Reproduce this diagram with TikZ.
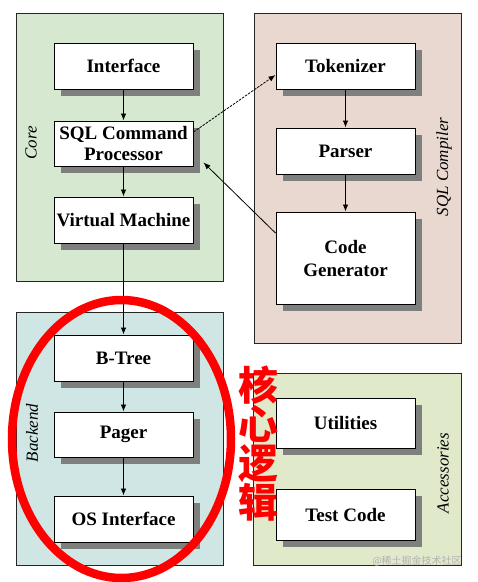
\documentclass[tikz,border=0pt]{standalone}
\usepackage{fontspec}
\setmainfont{Liberation Serif}
\newfontfamily\cjk{Noto Sans CJK SC}
\usetikzlibrary{shadows,arrows.meta}
\definecolor{coreg}{HTML}{D6E8D0}
\definecolor{sqlcg}{HTML}{E9D8CF}
\definecolor{backg}{HTML}{D0E6E4}
\definecolor{accg}{HTML}{E1E9CB}
\definecolor{shadowg}{HTML}{7E807E}
\begin{document}
\begin{tikzpicture}[x=1pt,y=-1pt,
  blk/.style={draw=black, line width=1pt, fill=white, inner sep=0pt, align=center,
    minimum width=139pt,
    font=\bfseries\fontsize{19}{20.5}\selectfont,
    drop shadow={shadow xshift=6.5pt, shadow yshift=-7pt, fill=shadowg, opacity=1}},
  panel/.style={draw=black!85, line width=1pt},
  lab/.style={font=\itshape\fontsize{17}{17}\selectfont, rotate=90, inner sep=0pt},
  arr/.style={-{Latex[length=7pt,width=5.5pt]}, line width=0.8pt}]
\useasboundingbox (0,0) rectangle (478,582);
% panels
\draw[panel, fill=coreg] (16,13) rectangle (223,281);
\draw[panel, fill=sqlcg] (254,13) rectangle (461,343);
\draw[panel, fill=backg] (16,312) rectangle (223,565);
\draw[panel, fill=accg] (253,373) rectangle (461,565);
% panel labels
\node[lab] (lcore) at (31,143) {Core};
\node[lab] (lsql) at (444,167) {SQL Compiler};
\node[lab] (lback) at (32,433) {Backend};
\node[lab] (lacc) at (443,473) {Accessories};
% boxes
\node[blk, minimum height=46pt] (iface) at (123.5,66) {Interface};
\node[blk, minimum height=45pt] (sqlcp) at (123.5,143.5) {SQL Command\\Processor};
\node[blk, minimum height=46pt] (vm) at (123.5,220) {Virtual Machine};
\node[blk, minimum height=46pt] (tok) at (345.5,66) {Tokenizer};
\node[blk, minimum height=46pt] (parser) at (345.5,151) {Parser};
\node[blk, minimum height=92pt, font=\bfseries\fontsize{19}{23}\selectfont] (cg) at (345.5,258) {Code\\Generator};
\node[blk, minimum height=46pt] (btree) at (123.5,358) {B-Tree};
\node[blk, minimum height=45pt] (pager) at (123.5,434.5) {Pager};
\node[blk, minimum height=46pt] (osi) at (123.5,519) {OS Interface};
\node[blk, minimum height=50pt] (util) at (345.5,423) {Utilities};
\node[blk, minimum height=51pt] (test) at (345.5,514.5) {Test Code};
% connectors
\draw[arr] (iface) -- (sqlcp);
\draw[arr] (sqlcp) -- (vm);
\draw[arr] (vm) -- (btree);
\draw[arr] (btree) -- (pager);
\draw[arr] (pager) -- (osi);
\draw[arr] (tok) -- (parser);
\draw[arr] (parser) -- (cg);
\draw[arr, dash pattern=on 2.5pt off 1.2pt] ([yshift=11.5pt]sqlcp.east) -- ([yshift=-9pt]tok.west);
\draw[arr] ([yshift=25pt]cg.west) -- ([xshift=10pt,yshift=4pt]sqlcp.south east);
% red highlight
\draw[red, line width=8.5pt] (121.5,439) ellipse [x radius=109.5pt, y radius=139pt];
\node[text=red, align=center, inner sep=0pt, font=\cjk\bfseries\fontsize{40}{39}\selectfont] (core) at (258,443.5) {核\\心\\逻\\辑};
% watermark
\node[text=black!30, inner sep=0pt, font=\cjk\fontsize{10}{10}\selectfont] (wm) at (417,561) {@稀土掘金技术社区};
\end{tikzpicture}
\end{document}
